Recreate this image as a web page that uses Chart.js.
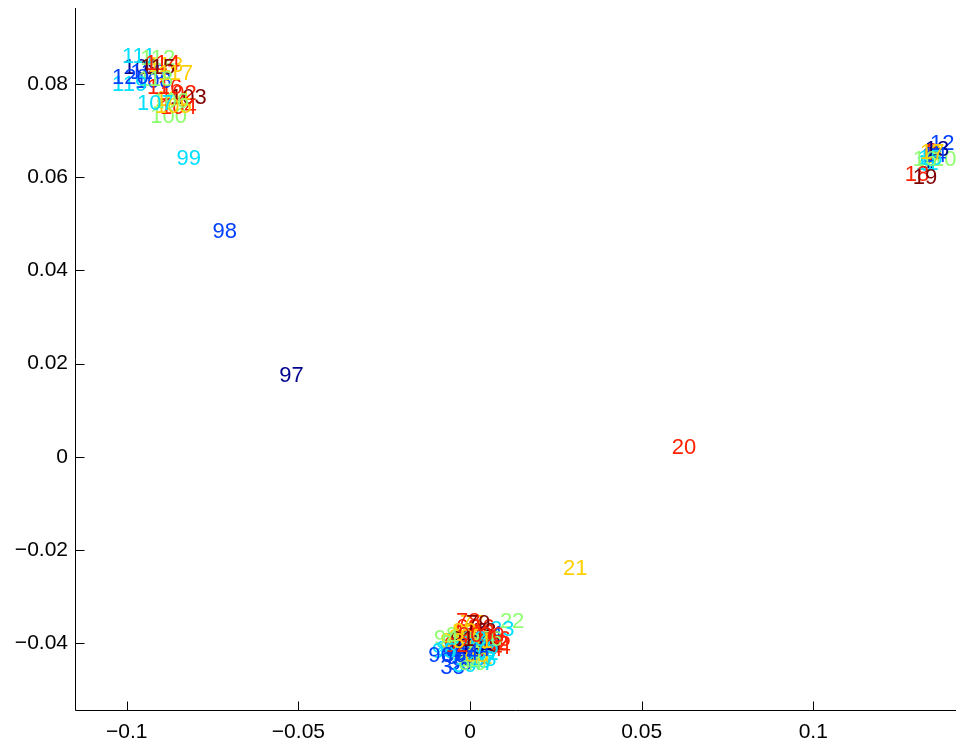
<!DOCTYPE html>
<html lang="en">
<head>
    <meta charset="UTF-8">
    <title>Embedding</title>
    <script src="https://cdn.jsdelivr.net/npm/chart.js@4.4.0/dist/chart.umd.min.js"></script>
    <style>
        body { margin: 0; background: #fff; }
        #wrap { width: 956px; height: 747px; position: relative; }
    </style>
</head>
<body>
<div id="wrap"><canvas id="plot"></canvas></div>
<script>
// point ids, drawn as the text marks
const pointIds = [
    1, 2, 3, 4, 5, 6, 7, 8, 9, 10, 11, 12, 13, 14, 15, 16, 17, 18, 19, 20,
    21, 22, 23, 24, 25, 26, 27, 28, 29, 30, 31, 32, 33, 34, 35, 36, 37, 38, 39, 40,
    41, 42, 43, 44, 45, 46, 47, 48, 49, 50, 51, 52, 53, 54, 55, 56, 57, 58, 59, 60,
    61, 62, 63, 64, 65, 66, 67, 68, 69, 70, 71, 72, 73, 74, 75, 76, 77, 78, 79, 80,
    81, 82, 83, 84, 85, 86, 87, 88, 89, 90, 91, 92, 93, 94, 95, 96, 97, 98, 99, 100,
    101, 102, 103, 104, 105, 106, 107, 108, 109, 110, 111, 112, 113, 114, 115, 116, 117, 118, 119, 120
];

const xVals = [
    0.1317, 0.1325, 0.1311, 0.1305, 0.1328, 0.1322, 0.1334, 0.1328, 0.1340, 0.1346,
    0.1299, 0.1340, 0.1325, 0.1317, 0.1305, 0.1290, 0.1311, 0.1267, 0.1290, 0.0588,
    0.0271, 0.0087, 0.0058, 0.0023, 0.0017, 0.0006, 0.0000, -0.0023, -0.0029, 0.0012,
    0.0000, 0.0029, -0.0041, -0.0058, -0.0012, -0.0064, -0.0035, -0.0087, -0.0052, -0.0023,
    -0.0006, 0.0041, 0.0006, 0.0047, -0.0035, -0.0017, 0.0000, -0.0029, -0.0041, -0.0070,
    0.0012, -0.0012, -0.0052, 0.0023, 0.0017, 0.0047, -0.0047, -0.0064, -0.0023, -0.0058,
    -0.0006, -0.0076, 0.0006, -0.0035, -0.0017, 0.0000, -0.0023, -0.0041, -0.0064, -0.0082,
    -0.0070, -0.0052, -0.0029, -0.0012, 0.0012, 0.0023, -0.0029, -0.0041, -0.0012, 0.0029,
    -0.0006, -0.0041, -0.0023, -0.0047, -0.0076, -0.0082, -0.0099, -0.0070, -0.0052, -0.0035,
    -0.0058, -0.0076, -0.0087, -0.0105, -0.0111, -0.0122, -0.0556, -0.0750, -0.0855, -0.0932,
    -0.0918, -0.0903, -0.0874, -0.0903, -0.0918, -0.0926, -0.0970, -0.0976, -0.1011, -0.0990,
    -0.1014, -0.0961, -0.0938, -0.0947, -0.0961, -0.0941, -0.0909, -0.0967, -0.1043, -0.1043
];

const yVals = [
    0.0637, 0.0641, 0.0630, 0.0637, 0.0647, 0.0654, 0.0650, 0.0658, 0.0654, 0.0641,
    0.0632, 0.0675, 0.0662, 0.0651, 0.0643, 0.0641, 0.0656, 0.0609, 0.0602, 0.0024,
    -0.0236, -0.0349, -0.0367, -0.0377, -0.0388, -0.0403, -0.0414, -0.0409, -0.0394, -0.0392,
    -0.0384, -0.0397, -0.0405, -0.0418, -0.0435, -0.0439, -0.0429, -0.0448, -0.0444, -0.0439,
    -0.0427, -0.0397, -0.0371, -0.0405, -0.0384, -0.0379, -0.0439, -0.0431, -0.0418, -0.0427,
    -0.0418, -0.0401, -0.0392, -0.0409, -0.0401, -0.0388, -0.0375, -0.0401, -0.0418, -0.0409,
    -0.0397, -0.0414, -0.0431, -0.0439, -0.0423, -0.0362, -0.0371, -0.0362, -0.0384, -0.0397,
    -0.0392, -0.0401, -0.0405, -0.0409, -0.0405, -0.0388, -0.0354, -0.0349, -0.0354, -0.0379,
    -0.0392, -0.0392, -0.0388, -0.0418, -0.0405, -0.0423, -0.0409, -0.0379, -0.0371, -0.0379,
    -0.0388, -0.0401, -0.0392, -0.0386, -0.0414, -0.0422, 0.0178, 0.0487, 0.0643, 0.0733,
    0.0770, 0.0782, 0.0774, 0.0752, 0.0756, 0.0765, 0.0761, 0.0808, 0.0838, 0.0829,
    0.0862, 0.0857, 0.0842, 0.0847, 0.0838, 0.0795, 0.0825, 0.0812, 0.0802, 0.0817
];

const xTicks = [-0.1, -0.05, 0, 0.05, 0.1];
const xTickLabels = ['\u22120.1', '\u22120.05', '0', '0.05', '0.1'];
const yTicks = [-0.04, -0.02, 0, 0.02, 0.04, 0.06, 0.08];
const yTickLabels = ['\u22120.04', '\u22120.02', '0', '0.02', '0.04', '0.06', '0.08'];

// jet colours, cycled up and down (index = id mod 12)
const jetCycle = ['#0040FF', '#00008F', '#0040FF', '#00DFFF', '#8FFF70', '#FFCF00',
                  '#FF2000', '#800000', '#FF2000', '#FFCF00', '#8FFF70', '#00DFFF'];

const FONT = '"Liberation Sans", Arial, Helvetica, sans-serif';

const points = xVals.map((x, i) => ({ x: x, y: yVals[i] }));

const textMarks = {
    id: 'textMarks',
    afterDatasetsDraw(chart) {
        const ctx = chart.ctx;
        const meta = chart.getDatasetMeta(0);
        ctx.save();
        ctx.font = '22px ' + FONT;
        ctx.textAlign = 'left';
        ctx.textBaseline = 'middle';
        meta.data.forEach((el, i) => {
            ctx.fillStyle = jetCycle[pointIds[i] % 12];
            // small nudge so the glyph centre sits on the point (matlab 'middle')
            ctx.fillText(String(pointIds[i]), el.x, el.y + 2);
        });
        ctx.restore();
    },
    afterDraw(chart) {
        // axis lines and inward ticks, like matlab
        const { ctx, chartArea } = chart;
        const xs = chart.scales.x, ys = chart.scales.y;
        const left = Math.round(chartArea.left) + 0.5;
        const bottom = Math.round(chartArea.bottom) - 0.5;
        ctx.save();
        ctx.strokeStyle = '#000';
        ctx.lineWidth = 1;
        ctx.beginPath();
        ctx.moveTo(left, chartArea.top);
        ctx.lineTo(left, bottom);
        ctx.lineTo(chartArea.right, bottom);
        xTicks.forEach(v => {
            const px = Math.round(xs.getPixelForValue(v)) + 0.5;
            ctx.moveTo(px, bottom);
            ctx.lineTo(px, bottom - 9);
        });
        yTicks.forEach(v => {
            const py = Math.round(ys.getPixelForValue(v)) + 0.5;
            ctx.moveTo(left, py);
            ctx.lineTo(left + 9, py);
        });
        ctx.stroke();
        ctx.restore();
    }
};

function noPad(s) {
    s.paddingTop = 0;
    s.paddingBottom = 0;
    s.paddingLeft = 0;
    s.paddingRight = 0;
}

new Chart(document.getElementById('plot'), {
    type: 'scatter',
    data: {
        datasets: [{
            data: points,
            pointRadius: 0,
            pointHoverRadius: 0,
            showLine: false
        }]
    },
    options: {
        responsive: true,
        maintainAspectRatio: false,
        animation: false,
        layout: { padding: { top: 8, right: 0, left: 0, bottom: 0 } },
        plugins: { legend: { display: false }, tooltip: { enabled: false } },
        scales: {
            x: {
                type: 'linear',
                min: -0.1151,
                max: 0.1416,
                grid: { display: false, drawTicks: false },
                border: { display: false },
                afterBuildTicks: s => { s.ticks = xTicks.map(v => ({ value: v })); },
                afterFit: s => { s.height = 36; noPad(s); },
                ticks: {
                    padding: 9,
                    color: '#000',
                    font: { family: FONT, size: 21 },
                    maxRotation: 0,
                    autoSkip: false,
                    callback: (v) => xTickLabels[xTicks.indexOf(v)]
                }
            },
            y: {
                type: 'linear',
                min: -0.0545,
                max: 0.0963,
                grid: { display: false, drawTicks: false },
                border: { display: false },
                afterBuildTicks: s => { s.ticks = yTicks.map(v => ({ value: v })); },
                afterFit: s => { s.width = 75; noPad(s); },
                ticks: {
                    padding: 7,
                    color: '#000',
                    font: { family: FONT, size: 21 },
                    autoSkip: false,
                    callback: (v) => yTickLabels[yTicks.indexOf(v)]
                }
            }
        }
    },
    plugins: [textMarks]
});
</script>
</body>
</html>
